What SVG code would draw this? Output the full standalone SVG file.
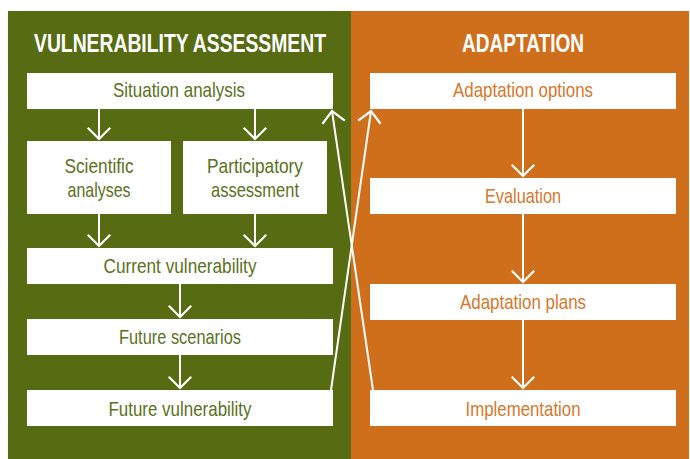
<svg xmlns="http://www.w3.org/2000/svg" width="690" height="459" viewBox="0 0 690 459">
<style>
.box{fill:#ffffff}
.g{fill:#5b7122}
.o{fill:#d4782c}
.t{font-family:"Liberation Sans",Arial,sans-serif;font-size:21px;text-anchor:middle}
.h{font-family:"Liberation Sans",Arial,sans-serif;font-size:26.5px;font-weight:bold;fill:#ffffff;text-anchor:middle}
.c{stroke:#ffffff;stroke-width:2;fill:none}
</style>
<defs>
<marker id="ah" markerUnits="userSpaceOnUse" viewBox="-14 -12 16 24" refX="0" refY="0" markerWidth="16" markerHeight="24" orient="auto" overflow="visible">
<path d="M-10.5,-10.5 L0,0 L-10.5,10.5" fill="none" stroke="#ffffff" stroke-width="2.2" stroke-linecap="square"/>
</marker>
</defs>
<rect x="8" y="11" width="343" height="448" fill="#566b12"/>
<rect x="351" y="11" width="338" height="448" fill="#cf6f1c"/>
<text class="h" x="180" y="52" textLength="292" lengthAdjust="spacingAndGlyphs">VULNERABILITY ASSESSMENT</text>
<text class="h" x="523" y="52" textLength="122" lengthAdjust="spacingAndGlyphs">ADAPTATION</text>

<g id="situation">
<rect class="box" x="27" y="73" width="306" height="36"/>
<text class="t g" x="179" y="97" textLength="132" lengthAdjust="spacingAndGlyphs">Situation analysis</text>
</g>
<g id="scientific">
<rect class="box" x="27" y="141" width="144" height="73"/>
<text class="t g" x="99" y="173" textLength="69" lengthAdjust="spacingAndGlyphs">Scientific</text>
<text class="t g" x="99" y="197" textLength="63" lengthAdjust="spacingAndGlyphs">analyses</text>
</g>
<g id="participatory">
<rect class="box" x="183" y="141" width="144" height="73"/>
<text class="t g" x="255" y="173" textLength="96" lengthAdjust="spacingAndGlyphs">Participatory</text>
<text class="t g" x="255" y="197" textLength="88" lengthAdjust="spacingAndGlyphs">assessment</text>
</g>
<g id="current">
<rect class="box" x="27" y="248" width="306" height="36"/>
<text class="t g" x="180" y="273" textLength="153" lengthAdjust="spacingAndGlyphs">Current vulnerability</text>
</g>
<g id="scenarios">
<rect class="box" x="27" y="319" width="306" height="36"/>
<text class="t g" x="180" y="344" textLength="122" lengthAdjust="spacingAndGlyphs">Future scenarios</text>
</g>
<g id="future">
<rect class="box" x="27" y="390" width="306" height="36"/>
<text class="t g" x="180" y="416" textLength="143" lengthAdjust="spacingAndGlyphs">Future vulnerability</text>
</g>

<g id="options">
<rect class="box" x="370" y="73" width="306" height="36"/>
<text class="t o" x="523" y="97" textLength="140" lengthAdjust="spacingAndGlyphs">Adaptation options</text>
</g>
<g id="evaluation">
<rect class="box" x="370" y="178" width="306" height="36"/>
<text class="t o" x="523" y="203" textLength="76" lengthAdjust="spacingAndGlyphs">Evaluation</text>
</g>
<g id="plans">
<rect class="box" x="370" y="284" width="306" height="36"/>
<text class="t o" x="523" y="309" textLength="126" lengthAdjust="spacingAndGlyphs">Adaptation plans</text>
</g>
<g id="implementation">
<rect class="box" x="370" y="390" width="306" height="36"/>
<text class="t o" x="523" y="416" textLength="115" lengthAdjust="spacingAndGlyphs">Implementation</text>
</g>

<g id="connectors">
<line class="c" x1="99" y1="109" x2="99" y2="139" marker-end="url(#ah)"/>
<line class="c" x1="255" y1="109" x2="255" y2="139" marker-end="url(#ah)"/>
<line class="c" x1="99" y1="214" x2="99" y2="246" marker-end="url(#ah)"/>
<line class="c" x1="255" y1="214" x2="255" y2="246" marker-end="url(#ah)"/>
<line class="c" x1="180" y1="284" x2="180" y2="317" marker-end="url(#ah)"/>
<line class="c" x1="180" y1="355" x2="180" y2="388" marker-end="url(#ah)"/>
<line class="c" x1="523" y1="109" x2="523" y2="176" marker-end="url(#ah)"/>
<line class="c" x1="523" y1="214" x2="523" y2="282" marker-end="url(#ah)"/>
<line class="c" x1="523" y1="320" x2="523" y2="388" marker-end="url(#ah)"/>
<line class="c" x1="331" y1="390" x2="371" y2="111" marker-end="url(#ah)"/>
<line class="c" x1="373" y1="390" x2="332" y2="111" marker-end="url(#ah)"/>
</g>
</svg>
